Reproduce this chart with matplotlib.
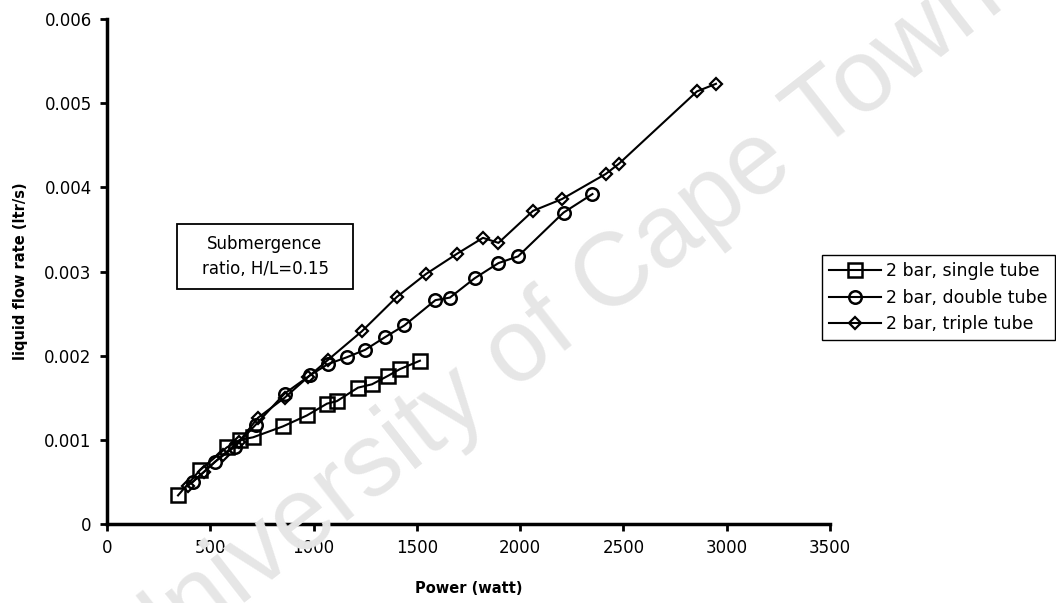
import matplotlib
matplotlib.use("Agg")
import matplotlib.pyplot as plt
from matplotlib.patches import Rectangle

plt.rcParams['font.family'] = ['DejaVu Sans']

# 2 bar, single tube
single_power = [344, 450, 580, 644, 707, 852, 968, 1065, 1113, 1215, 1283, 1360, 1418, 1515]
single_flow = [0.00034, 0.00064, 0.00091, 0.00100, 0.00103, 0.00116, 0.00129, 0.00143, 0.00146,
               0.00162, 0.00166, 0.00176, 0.00184, 0.00194]

# 2 bar, double tube
double_power = [416, 523, 620, 720, 860, 985, 1070, 1160, 1250, 1346, 1440, 1590, 1660, 1780,
                1895, 1990, 2210, 2350]
double_flow = [0.00050, 0.00074, 0.00092, 0.00118, 0.00155, 0.00177, 0.00190, 0.00198, 0.00207,
               0.00222, 0.00236, 0.00266, 0.00269, 0.00292, 0.00310, 0.00318, 0.00370, 0.00392]

# 2 bar, triple tube
triple_power = [390, 470, 560, 640, 730, 860, 975, 1070, 1234, 1404, 1544, 1694, 1820, 1895,
                2062, 2202, 2415, 2478, 2856, 2948]
triple_flow = [0.00045, 0.00062, 0.00082, 0.00098, 0.00126, 0.00150, 0.00175, 0.00195, 0.00229,
               0.00270, 0.00297, 0.00321, 0.00340, 0.00334, 0.00372, 0.00386, 0.00416, 0.00428,
               0.00514, 0.00523]

fig = plt.figure(figsize=(10.56, 6.03), dpi=100)
ax = fig.add_axes([0.1013, 0.131, 0.6847, 0.8375])

# watermark
fig.text(0.525, 0.46, "University of Cape Town", family="Liberation Sans", fontsize=74,
         color="#e6e6e6", rotation=38, ha="center", va="center", zorder=0)

ax.patch.set_alpha(0)
ax.plot(single_power, single_flow, color="black", lw=1.5, marker="s", ms=10,
        mfc="none", mec="black", mew=1.8, label="2 bar, single tube")
ax.plot(double_power, double_flow, color="black", lw=1.5, marker="o", ms=9,
        mfc="none", mec="black", mew=1.8, label="2 bar, double tube")
ax.plot(triple_power, triple_flow, color="black", lw=1.5, marker="D", ms=6,
        mfc="none", mec="black", mew=1.6, label="2 bar, triple tube")

ax.set_xlim(0, 3500)
ax.set_ylim(0, 0.006)
ax.set_xticks(range(0, 3501, 500))
ax.set_yticks([0, 0.001, 0.002, 0.003, 0.004, 0.005, 0.006])
ax.set_yticklabels(["0", "0.001", "0.002", "0.003", "0.004", "0.005", "0.006"])

for s in ["top", "right"]:
    ax.spines[s].set_visible(False)
for s in ["left", "bottom"]:
    ax.spines[s].set_linewidth(2.5)
ax.tick_params(width=2, length=5, labelsize=12, pad=6)

ax.set_xlabel("Power (watt)", fontsize=10.5, fontweight="bold", labelpad=17)
ax.set_ylabel("liquid flow rate (ltr/s)", fontsize=10.5, fontweight="bold", labelpad=12)

# annotation box
fig.add_artist(Rectangle((177 / 1056, 1 - 289 / 603), 176 / 1056, 65 / 603,
                         transform=fig.transFigure, fc="white", ec="black", lw=1.3))
fig.text(265 / 1056, 1 - 256.5 / 603, "Submergence\nratio, H/L=0.15", ha="center",
         va="center", fontsize=12, linespacing=1.45)

fig.legend(loc="upper left", bbox_to_anchor=(822 / 1056, 1 - 255 / 603), fontsize=12.5,
           frameon=True, fancybox=False, edgecolor="black", framealpha=1, handlelength=3.0,
           handletextpad=0.3, borderpad=0.4, labelspacing=0.5, borderaxespad=0)

fig.savefig("out.png", dpi=100)
